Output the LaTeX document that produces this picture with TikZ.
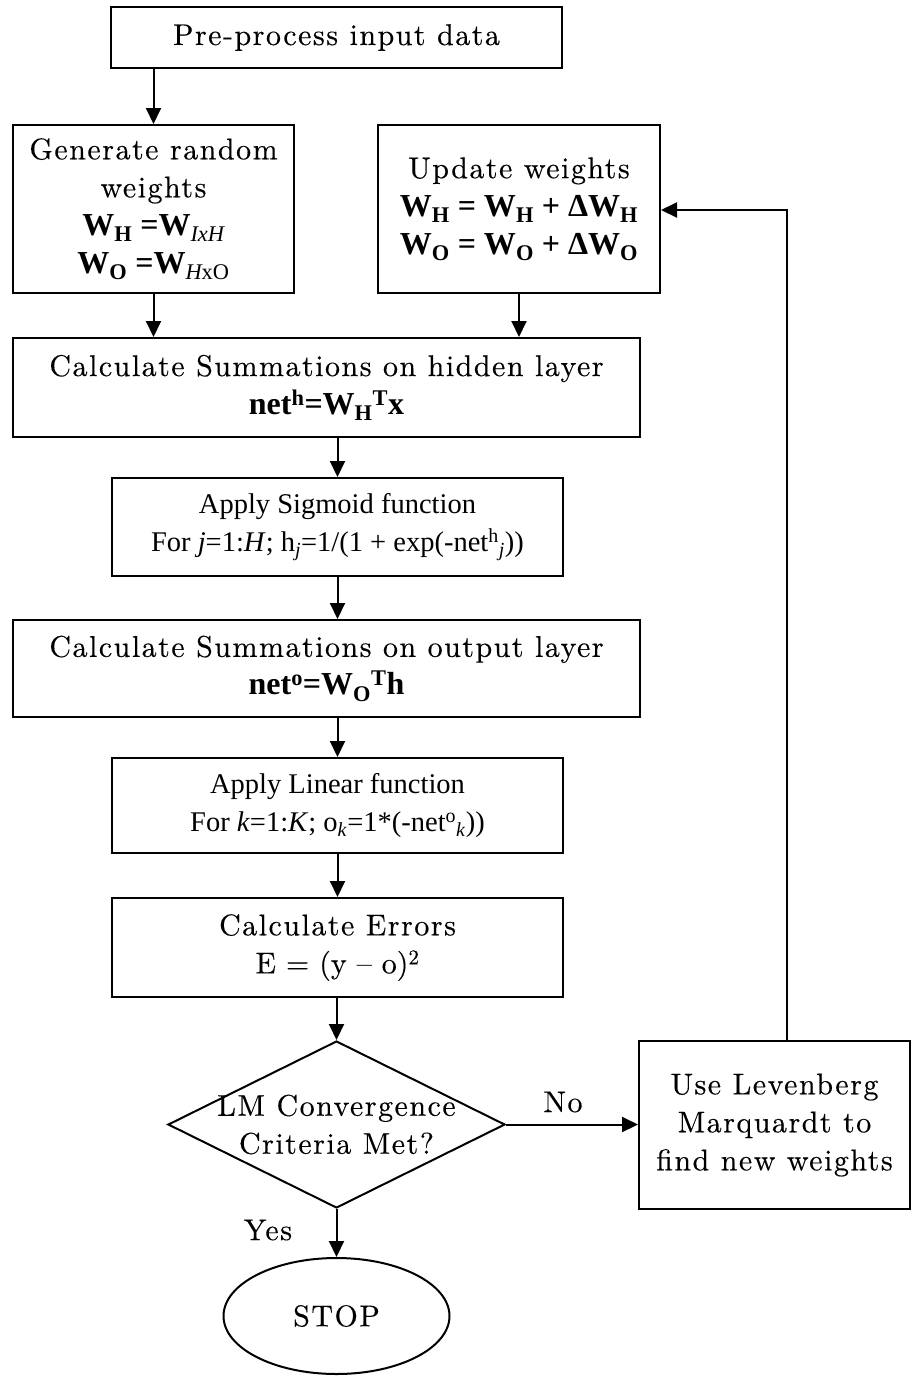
\documentclass[tikz,border=0pt]{standalone}
\usepackage{fontspec}
\newfontfamily\tnr{Liberation Serif}
\newfontfamily\lmw{lmroman10}[Extension=.otf, UprightFont=*-regular, BoldFont=*-bold, ItalicFont=*-italic, LetterSpace=5, FakeBold=0.3]
\usetikzlibrary{arrows.meta,shapes.geometric}
\newcommand{\lmsp}{\lmw\fontsize{30}{38}\selectfont}
\newcommand{\tms}{\tnr\fontsize{28.5}{34}\selectfont}
\newcommand{\tmb}{\tnr\fontsize{32}{38}\selectfont\bfseries}
\tikzset{
  box/.style={draw, line width=2pt, inner sep=0pt, align=center, font=\lmsp},
  arr/.style={line width=2pt, -{Triangle[length=16pt,width=15pt]}},
  lbl/.style={inner sep=0pt, font=\lmsp}
}
\begin{document}
\begin{tikzpicture}[x=1pt,y=-1pt]
\useasboundingbox (0,0) rectangle (915,1377);
% nodes
\node[box, minimum width=451pt, minimum height=61pt] (pre) at (336.5,37.5) {Pre-process input data};
\node[box, minimum width=281pt, minimum height=168pt] (gen) at (153.5,209)
  {Generate random\\weights\\{\tmb W\textsubscript{H} =W\textsubscript{\mdseries\itshape IxH}}\\{\tmb W\textsubscript{O} =W\textsubscript{\mdseries\itshape H\upshape xO}}};
\node[box, minimum width=282pt, minimum height=168pt] (upd) at (519,209)
  {Update weights\\{\tmb W\textsubscript{H} = W\textsubscript{H} + ΔW\textsubscript{H}}\\{\tmb W\textsubscript{O} = W\textsubscript{O} + ΔW\textsubscript{O}}};
\node[box, minimum width=627pt, minimum height=99pt] (hid) at (326.5,387.5)
  {Calculate Summations on hidden layer\\{\tmb net\textsuperscript{h}=W\textsubscript{H}\textsuperscript{T}x}};
\node[box, minimum width=451pt, minimum height=98pt] (sig) at (337.5,527)
  {\tms Apply Sigmoid function\\\tms For \textit{j}=1:\textit{H}; h\textsubscript{\textit{j}}=1/(1 + exp(-net\textsuperscript{h}\textsubscript{\textit{j}}))};
\node[box, minimum width=627pt, minimum height=97pt] (out) at (326.5,668.5)
  {Calculate Summations on output layer\\{\tmb net\textsuperscript{o}=W\textsubscript{O}\textsuperscript{T}h}};
\node[box, minimum width=451pt, minimum height=95pt] (lin) at (337.5,805.5)
  {\tms Apply Linear function\\\tms For \textit{k}=1:\textit{K}; o\textsubscript{\textit{k}}=1*(-net\textsuperscript{o}\textsubscript{\textit{k}}))};
\node[box, minimum width=451pt, minimum height=99pt] (err) at (337.5,947.5)
  {Calculate Errors\\{\addfontfeature{LetterSpace=0}E = (y – o)\textsuperscript{2}}};
\node[draw, line width=2pt, diamond, inner sep=0pt, minimum width=337pt, minimum height=167pt] (dec) at (336.5,1124.5) {};
\node[lbl, align=center] (dect) at (dec.center) {LM Convergence\\Criteria Met?};
\node[draw, line width=2pt, ellipse, inner sep=0pt, minimum width=226pt, minimum height=116pt, font=\lmsp] (stop) at (336.5,1316) {STOP};
\node[box, minimum width=271pt, minimum height=168pt] (lm) at (774.5,1125)
  {Use Levenberg\\Marquardt to\\find new weights};
\node[lbl] (no) at (563,1102) {No};
\node[lbl] (yes) at (268,1230) {Yes};
\coordinate (fb) at (787,210);
% connectors
\draw[arr] (pre.south -| gen) -- (gen.north);
\draw[arr] (gen.south) -- (gen.south |- hid.north);
\draw[arr] (upd.south) -- (upd.south |- hid.north);
\draw[arr] (hid.south -| sig) -- (sig.north);
\draw[arr] (sig.south) -- (sig.south |- out.north);
\draw[arr] (out.south -| lin) -- (lin.north);
\draw[arr] (lin.south) -- (err.north);
\draw[arr] (err.south -| dec) -- (dec.north);
\draw[arr] (dec.south) -- (stop.north);
\draw[arr] (dec.east) -- (dec.east -| lm.west);
\draw[arr] (lm.north -| fb) -- (fb) -- (upd.east |- fb);
\end{tikzpicture}
\end{document}
